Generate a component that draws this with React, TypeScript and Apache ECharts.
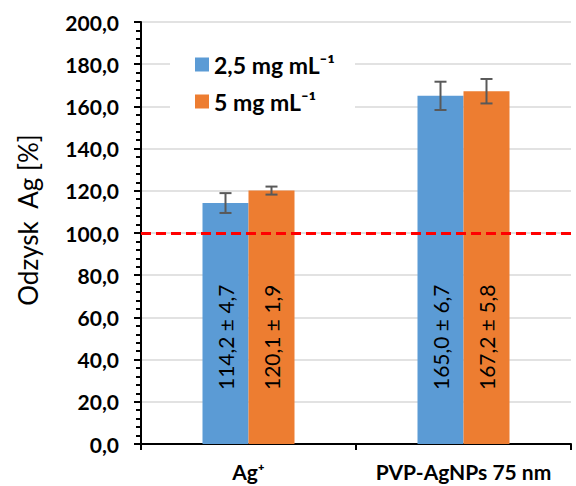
import React, { useEffect, useRef } from "react";
import * as echarts from "echarts";

const categories = ["Ag\u207A", "PVP-AgNPs 75 nm"];
const seriesNames = ["2,5 mg mL\u207B\u00B9", "5 mg mL\u207B\u00B9"];
const lowConc = [114.2, 165.0];
const highConc = [120.1, 167.2];
const lowSd = [4.7, 6.7];
const highSd = [1.9, 5.8];
const refLine = 100;
const colors = ["#5B9BD5", "#ED7D31"];

const fmt = (v: number) => v.toFixed(1).replace(".", ",");
const FONT = "Lato, 'Liberation Sans', sans-serif";
const BAR_W = 46;

export default function App() {
  const ref = useRef<HTMLDivElement>(null);
  useEffect(() => {
    if (!ref.current) return;
    const chart = echarts.init(ref.current, undefined, { renderer: "svg" });
    const values = [lowConc, highConc];
    const sds = [lowSd, highSd];

    const barSeries = values.map((vals, si) => ({
      name: seriesNames[si],
      type: "bar",
      data: vals,
      barWidth: BAR_W,
      barGap: "0%",
      itemStyle: { color: colors[si] },
      z: 2,
      label: {
        show: true,
        position: "insideBottom",
        rotate: 90,
        align: "left",
        verticalAlign: "middle",
        distance: 54,
        fontSize: 21,
        fontFamily: FONT,
        color: "#000",
        formatter: (p: any) => `${fmt(vals[p.dataIndex])} ± ${fmt(sds[si][p.dataIndex])}`,
      },
      markLine:
        si === 0
          ? {
              silent: true,
              symbol: "none",
              label: { show: false },
              lineStyle: { color: "#FF0000", width: 3, type: [10, 5] },
              data: [{ yAxis: refLine }],
              z: 5,
            }
          : undefined,
    }));

    const errSeries = values.map((vals, si) => ({
      type: "custom",
      z: 6,
      silent: true,
      data: vals.map((v, i) => [i, v - sds[si][i], v + sds[si][i]]),
      renderItem: (params: any, api: any) => {
        const idx = api.value(0);
        const lo = api.coord([idx, api.value(1)]);
        const hi = api.coord([idx, api.value(2)]);
        const x = lo[0] + (si - 0.5) * BAR_W;
        const cap = 6;
        const style = { stroke: "#595959", lineWidth: 2 };
        return {
          type: "group",
          children: [
            { type: "line", shape: { x1: x, y1: lo[1], x2: x, y2: hi[1] }, style },
            { type: "line", shape: { x1: x - cap, y1: lo[1], x2: x + cap, y2: lo[1] }, style },
            { type: "line", shape: { x1: x - cap, y1: hi[1], x2: x + cap, y2: hi[1] }, style },
          ],
        };
      },
    }));

    chart.setOption({
      animation: false,
      backgroundColor: "#fff",
      grid: { left: 141, right: 5, top: 22, bottom: 42, containLabel: false },
      legend: {
        data: seriesNames,
        orient: "vertical",
        left: 170,
        top: 43,
        padding: [10, 20, 10, 25],
        backgroundColor: "#fff",
        itemWidth: 14,
        itemHeight: 14,
        itemGap: 14,
        itemTextGap: 7,
        icon: "rect",
        textStyle: { fontSize: 23, fontWeight: "bold", fontFamily: FONT, color: "#000", lineHeight: 20 },
      },
      xAxis: {
        type: "category",
        data: categories,
        axisLine: { show: true, lineStyle: { color: "#000", width: 2 } },
        axisTick: { show: true, length: 6, interval: 0, lineStyle: { color: "#000", width: 2 } },
        axisLabel: {
          interval: 0,
          hideOverlap: false,
          fontSize: 21,
          fontWeight: "bold",
          fontFamily: FONT,
          color: "#000",
          margin: 17,
        },
        splitLine: { show: false },
      },
      yAxis: {
        type: "value",
        min: 0,
        max: 200,
        interval: 20,
        name: "Odzysk  Ag [%]",
        nameLocation: "middle",
        nameGap: 100,
        nameTextStyle: { fontSize: 26, fontFamily: FONT, color: "#000", padding: [0, 0, 0, 26] },
        axisLine: { show: true, lineStyle: { color: "#000", width: 2 } },
        axisTick: { show: true, length: 7, lineStyle: { color: "#000", width: 2 } },
        minorTick: { show: true, splitNumber: 5, length: 5, lineStyle: { color: "#000", width: 2 } },
        axisLabel: {
          fontSize: 21,
          fontWeight: "bold",
          fontFamily: FONT,
          color: "#000",
          margin: 22,
          formatter: (v: number) => fmt(v),
        },
        splitLine: { show: true, lineStyle: { color: "#D9D9D9", width: 1.5 } },
      },
      series: [...barSeries, ...errSeries],
    });
    return () => chart.dispose();
  }, []);
  return <div ref={ref} style={{ width: 576, height: 486, position: "absolute", left: 0, top: 0 }} />;
}
